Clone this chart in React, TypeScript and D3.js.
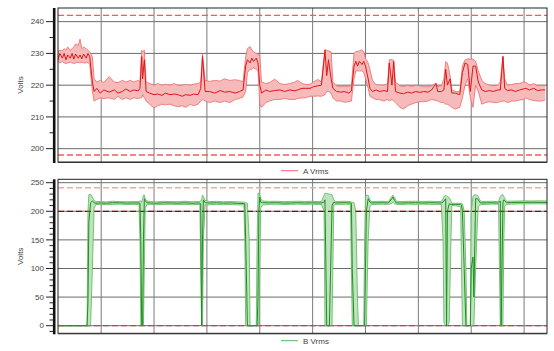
import React from "react";
import * as d3 from "d3";

// ---------- A Vrms: [minutes, min, avg, max] ----------
const aRows: number[][] = [
  [0,227.5,228,230.5],[2,227,230,231],[5,227.5,228.5,230.8],[7,227,230,231.5],[9,226.8,228,231],
  [11,227,229.5,232],[14,227.2,228.5,231],[16,227,230,231.5],[18,226.8,228.2,232],[20,227,229.8,233],
  [23,227.2,228.5,232.5],[25,227,229.5,234.5],[27,227.2,228.3,231.5],[29,227,229.8,232],[32,227,228.5,231.5],
  [34,227.2,230,231],[36,226.5,229,230.5],[39,218,221,229],[41,215,218,222],[44,215.5,219,221],
  [48,216,217.5,221.5],[52,215.8,218.5,220.8],[58,216,217.8,222.7],[64,215.5,218.5,221],[68,216.5,217.5,220.8],
  [73,215.5,218,221.5],[77,216,218.8,221],[82,215.5,218,221.5],[86,216,218.5,221],[91,215.8,218.2,221.5],
  [93,216,219,221],[95,216,229,231],[96,217,222,230.5],[98,216,228,231],[100,215,218,221],
  [104,214,217.5,220.5],[109,212.8,217,220],[113,213.5,217.2,220.5],[118,214,216.8,220],[122,213.8,217.5,220.3],
  [127,214,217,220],[132,213.5,217.2,220.5],[136,213.2,217,220],[141,213.5,216.5,220],[145,213,217,220.2],
  [150,214,216.8,220],[154,213.5,217.2,220.3],[159,214,217,220.5],[162,215,219,221],[164,215.5,229,229.8],
  [167,215,218,221.5],[172,214.5,218,221.2],[178,215,217.5,221.5],[184,214.5,218.3,221.3],[189,215,217.8,222],
  [195,214.5,218,221.5],[201,215.5,217.5,221.7],[206,215.8,218,221.5],[210,216.3,218.5,221],[213,218,226,229],
  [215,224,228,231.5],[218,225,227,232.2],[220,225,228.5,231],[222,225.5,227.5,230.5],[225,225,228.5,230],
  [227,224.5,227,230],[229,214,220,229],[231,213,217.5,221],[236,214.5,218.5,220.5],[240,215,218,220.8],
  [246,215.5,218.3,221.9],[252,215.5,218.5,220.5],[257,215.8,218,220.2],[263,215.5,218.5,220.5],[269,215.5,218.2,221],
  [272,215.8,218.5,221.5],[277,216,219,220.5],[281,216,219,220.2],[286,216.5,219,220.3],[290,216.5,219.5,221],
  [295,216.6,219.8,221.8],[299,216.5,220,221],[303,217,231,231.2],[305,218,223,231],[307,218,228,230.8],
  [310,217.5,222,230.5],[312,216,219,221],[316,215,218,219.8],[321,215,217.8,219.5],[325,214.6,218,219.7],
  [330,214.8,217.5,219.5],[333,215,218.2,220],[336,222,226,230],[338,224.5,227.5,230.6],[340,224.5,226,230.6],
  [342,224.5,227.5,230.8],[345,224.5,226.5,231.1],[347,224,227.5,230.5],[349,222,226,228.5],[352,219,222,227],
  [354,216.5,219,225],[357,216,218,221.5],[361,215.5,218.5,220.1],[365,215.4,218,220.1],[370,215,218.3,220],
  [374,215.5,218,220.5],[376,215,227,228],[379,215.5,220,228],[381,215,227.5,227.8],[383,214.5,218,221],
  [388,213,217.5,219.8],[392,212.5,217.3,219.5],[397,213.5,217.8,220],[401,214,217.5,219.5],[406,214.5,218,220],
  [411,214.8,217.7,219.8],[415,214.8,218,219.5],[420,215,217.8,219.5],[424,215.5,218.5,219.8],[429,215.2,220.5,220.6],
  [431,215,218,219.5],[435,214.5,218,219.8],[438,214.5,218.5,222],[440,214,225,227.4],[442,214,220,227],
  [445,213.5,222,223],[447,213,217.5,218.5],[451,212.5,217.5,218],[456,213,217,218],[459,216,224,226],
  [462,220,227,228],[465,222,226.5,228.3],[468,216,218,228.2],[471,213,226,228.2],[474,220,226,227.5],
  [477,218,221,224.5],[481,214,218.5,221.5],[485,214.5,218,220.5],[490,214.8,218.3,220],[494,214.5,218,219.8],
  [499,214.5,218.5,220],[502,214.8,218.5,221],[505,215,229,229.2],[507,215,219,222],[510,214.5,218.3,220],
  [515,215,218.5,220.2],[519,215,218,220.5],[524,215.3,218.5,220.5],[528,215.5,218.8,221],[531,216,219,220.9],
  [535,215.5,218.5,220],[540,215.2,219,220.5],[544,215,218.3,219.8],[549,215,218.5,220],[553,215.3,218.5,219.8],
];

// ---------- B Vrms: [minutes, min, avg, max] ----------
const bRows: number[][] = [
  [0,0,0,0],[32,0,0,0],[33,0,0,5],[34,0,40,200],[35,0,180,229],[37,0,215,230],[39,100,218,225],
  [41,205,215,219],[43,212,214,217],[48,212,214.5,217],[55,211.5,214,216.5],[62,212,215,217.5],[70,212.5,214.8,217],
  [78,211.8,214.3,216.8],[86,212,214.5,217],[92,212,214.5,217],[93,150,214,218],[94,0,150,218],
  [95,0,0,216],[96,0,0,222],[97,0,150,228],[98,100,222,228.5],[99,205,218,222],[101,212,215,218],
  [105,212,214.5,217],[112,211.5,214,216.5],[120,212,214.8,217.3],[128,212.3,214.5,217],[136,211.8,214.2,216.8],
  [144,212,214.8,217.5],[152,211.5,214,216.8],[160,212,214.5,217],[161,212,214,217],[162,100,213,218],
  [163,0,0,220],[164,0,150,228.5],[165,150,220,226],[167,211,215,219],
  [172,211.5,214.5,217],[180,212,214.8,217.3],[188,211.5,214.2,216.8],[196,211.8,214.5,217],[204,211.2,213.8,216.5],
  [211,211,213.5,216],[212,150,213,216],[213,0,150,215],[215,0,0,214],[217,0,0,150],[218,0,0,0],[225,0,0,0],
  [226,0,0,150],[227,0,50,232],[228,0,200,231],[229,100,225,228],[230,205,216,222],[232,211,215,218],
  [240,212,214.8,217.3],[248,212.3,215,217.5],[256,211.8,214.3,217],[264,212,214.5,217.2],[272,212.5,215,217.6],
  [280,212,214.6,217.2],[288,212.3,214.8,217.5],[296,212,214.5,217],[299,212,214.5,217],[302,200,216,228],
  [303,0,220,231.5],[305,0,0,231],[308,0,0,230],[311,0,210,229],[313,211,216,220],[315,212,214.5,217],
  [320,212,214.8,217.3],[326,212.3,215,217.5],[332,212,214.5,217],[333,100,214,216],[334,0,100,216],
  [336,0,0,215],[338,0,0,200],[340,0,0,40],[341,0,0,0],[347,0,0,0],[348,0,0,150],[349,0,100,226],
  [350,0,200,228],[352,150,222,228],[354,208,216,220],[356,212,214.5,217],[362,212,214.8,217.3],
  [368,212.3,215,217.5],[374,212,214.5,217],[375,212,214.5,217],[379,214,222,226],[380,216,225,228.5],
  [382,213,219,224],[384,212,214.5,217.5],[390,212,214.5,217],[398,212.3,214.8,217.4],[406,212,215,217.6],
  [414,212.5,214.6,217.2],[422,212,215,217.5],[430,212,214.8,217],[435,212,214.5,217],[437,150,216,222],
  [438,5,218,226],[440,0,222,227.5],[441,0,0,227],[442,0,200,226],[444,5,213,224],[446,150,212,218],
  [447,210,212,214],[451,209.5,212,214],[457,208,212,214],[458,100,211,214],[459,0,200,213],[461,0,100,200],
  [463,0,0,100],[464,0,0,0],[468,0,0,0],[469,0,100,200],[471,0,120,226],[472,0,50,228],[474,100,222,229],
  [476,180,222,228],[477,208,220,226],[479,211,215,219],[481,212,214.5,217],[486,212,214.8,217.3],
  [492,212.5,215,217.5],[498,212.5,214.5,217],[500,212,214.5,217],[501,100,216,222],[502,0,218,226],
  [503,0,0,228],[505,0,215,229],[506,150,220,226],[507,209,218,222],[509,212,215,217.5],[515,212.5,215.2,217.8],
  [522,212.8,215.5,218],[530,213,215.5,218.2],[538,213,215.8,218],[546,213,215.6,218.3],[555,213,215.5,218],
];

// ---------- axes ----------
const aTicks = [200, 210, 220, 230, 240];
const aMinorTicks = [195, 205, 215, 225, 235];
const aDomain = [195.8, 244.3];
const aLimits = [242, 198];
const bTicks = [0, 50, 100, 150, 200, 250];
const bMinorTicks = [-10, 10, 20, 30, 40, 60, 70, 80, 90, 110, 120, 130, 140, 160, 170, 180, 190, 210, 220, 230, 240];
const bDomain = [-13.3, 255.9];
const bLimits = [241, 200, 0];
const timeDomain = [0, 555];
const timeGrid = [49, 109, 169, 229, 289, 349, 409, 469, 529];

const FONT = "'Liberation Sans', Arial, sans-serif";
const L = 58, R = 547;

type Th = { v: number; color: string; w: number };

function Panel(props: {
  top: number; bottom: number; rows: number[][];
  domain: number[]; ticks: number[]; minor: number[]; th: Th[];
  fill: string; edge: string; line: string; label: string; legendY: number;
}) {
  const { top, bottom, rows, domain, ticks, minor, th, fill, edge, line, label, legendY } = props;
  const x = d3.scaleLinear().domain(timeDomain).range([L, R]);
  const y = d3.scaleLinear().domain(domain).range([bottom, top]);
  const area = d3.area<number[]>().x(d => x(d[0])).y0(d => y(d[1])).y1(d => y(d[3]));
  const lMin = d3.line<number[]>().x(d => x(d[0])).y(d => y(d[1]));
  const lMax = d3.line<number[]>().x(d => x(d[0])).y(d => y(d[3]));
  const lAvg = d3.line<number[]>().x(d => x(d[0])).y(d => y(d[2]));
  const clipId = "clip" + Math.round(top);
  return (
    <g>
      <defs>
        <clipPath id={clipId}><rect x={L} y={top} width={R - L} height={bottom - top} /></clipPath>
      </defs>
      {ticks.map(v => (
        <line key={"g" + v} x1={L} x2={R} y1={y(v)} y2={y(v)} stroke="#6a6a6a" strokeWidth={1} />
      ))}
      {timeGrid.map(v => (
        <line key={"v" + v} x1={x(v)} x2={x(v)} y1={top} y2={bottom} stroke="#7a7a7a" strokeWidth={1} />
      ))}
      <g clipPath={`url(#${clipId})`}>
        <path d={area(rows) || ""} fill={fill} stroke="none" />
        {th.map(h => (
          <line key={"t" + h.v} x1={L} x2={R} y1={y(h.v)} y2={y(h.v)} stroke={h.color} strokeWidth={h.w} strokeDasharray="6,3" />
        ))}
        <path d={lMin(rows) || ""} fill="none" stroke={edge} strokeWidth={0.8} />
        <path d={lMax(rows) || ""} fill="none" stroke={edge} strokeWidth={0.8} />
        <path d={lAvg(rows) || ""} fill="none" stroke={line} strokeWidth={1} />
      </g>
      <rect x={L} y={top} width={R - L} height={bottom - top} fill="none" stroke="#222" strokeWidth={1} />
      <line x1={L} x2={R} y1={bottom + 0.5} y2={bottom + 0.5} stroke="#333" strokeWidth={1} />
      <line x1={54.2} x2={54.2} y1={top} y2={bottom + 1} stroke="#111" strokeWidth={2.6} />
      {ticks.map(v => (
        <g key={"k" + v}>
          <line x1={46} x2={53} y1={y(v)} y2={y(v)} stroke="#222" strokeWidth={1} />
          <text x={44} y={y(v)} dy="0.35em" textAnchor="end" fontFamily={FONT} fontSize={8} fill="#444">{v}</text>
        </g>
      ))}
      {minor.filter(v => v >= domain[0] && v <= domain[1]).map(v => (
        <line key={"m" + v} x1={49.5} x2={53} y1={y(v)} y2={y(v)} stroke="#222" strokeWidth={1} />
      ))}
      <text transform={`translate(23,${(top + bottom) / 2}) rotate(-90)`} textAnchor="middle" fontFamily={FONT} fontSize={8} fill="#444">Volts</text>
      <line x1={281} x2={298} y1={legendY} y2={legendY} stroke={edge} strokeWidth={1} />
      <text x={303} y={legendY + 2.8} fontFamily={FONT} fontSize={8} fill="#444">{label}</text>
    </g>
  );
}

export default function App() {
  return (
    <svg width={554} height={351} style={{ position: "absolute", left: 0, top: 0, background: "#fff" }}>
      <rect x={0} y={0} width={554} height={351} fill="#fff" />
      <Panel top={8} bottom={162} rows={aRows} domain={aDomain}
        ticks={aTicks} minor={aMinorTicks}
        th={[{ v: aLimits[0], color: "#f25c5c", w: 1.3 }, { v: aLimits[1], color: "#f25c5c", w: 1.3 }]}
        fill="#f7baba" edge="#ec6a6a" line="#e01414" label="A Vrms" legendY={170.7} />
      <Panel top={179.3} bottom={333.3} rows={bRows} domain={bDomain}
        ticks={bTicks} minor={bMinorTicks}
        th={[{ v: bLimits[0], color: "#f4a6a6", w: 1.5 }, { v: bLimits[1], color: "#9a0000", w: 1.3 }, { v: bLimits[2], color: "#e03a3a", w: 1.2 }]}
        fill="#bfe3bf" edge="#5cb65c" line="#1f8f1f" label="B Vrms" legendY={340.7} />
    </svg>
  );
}
